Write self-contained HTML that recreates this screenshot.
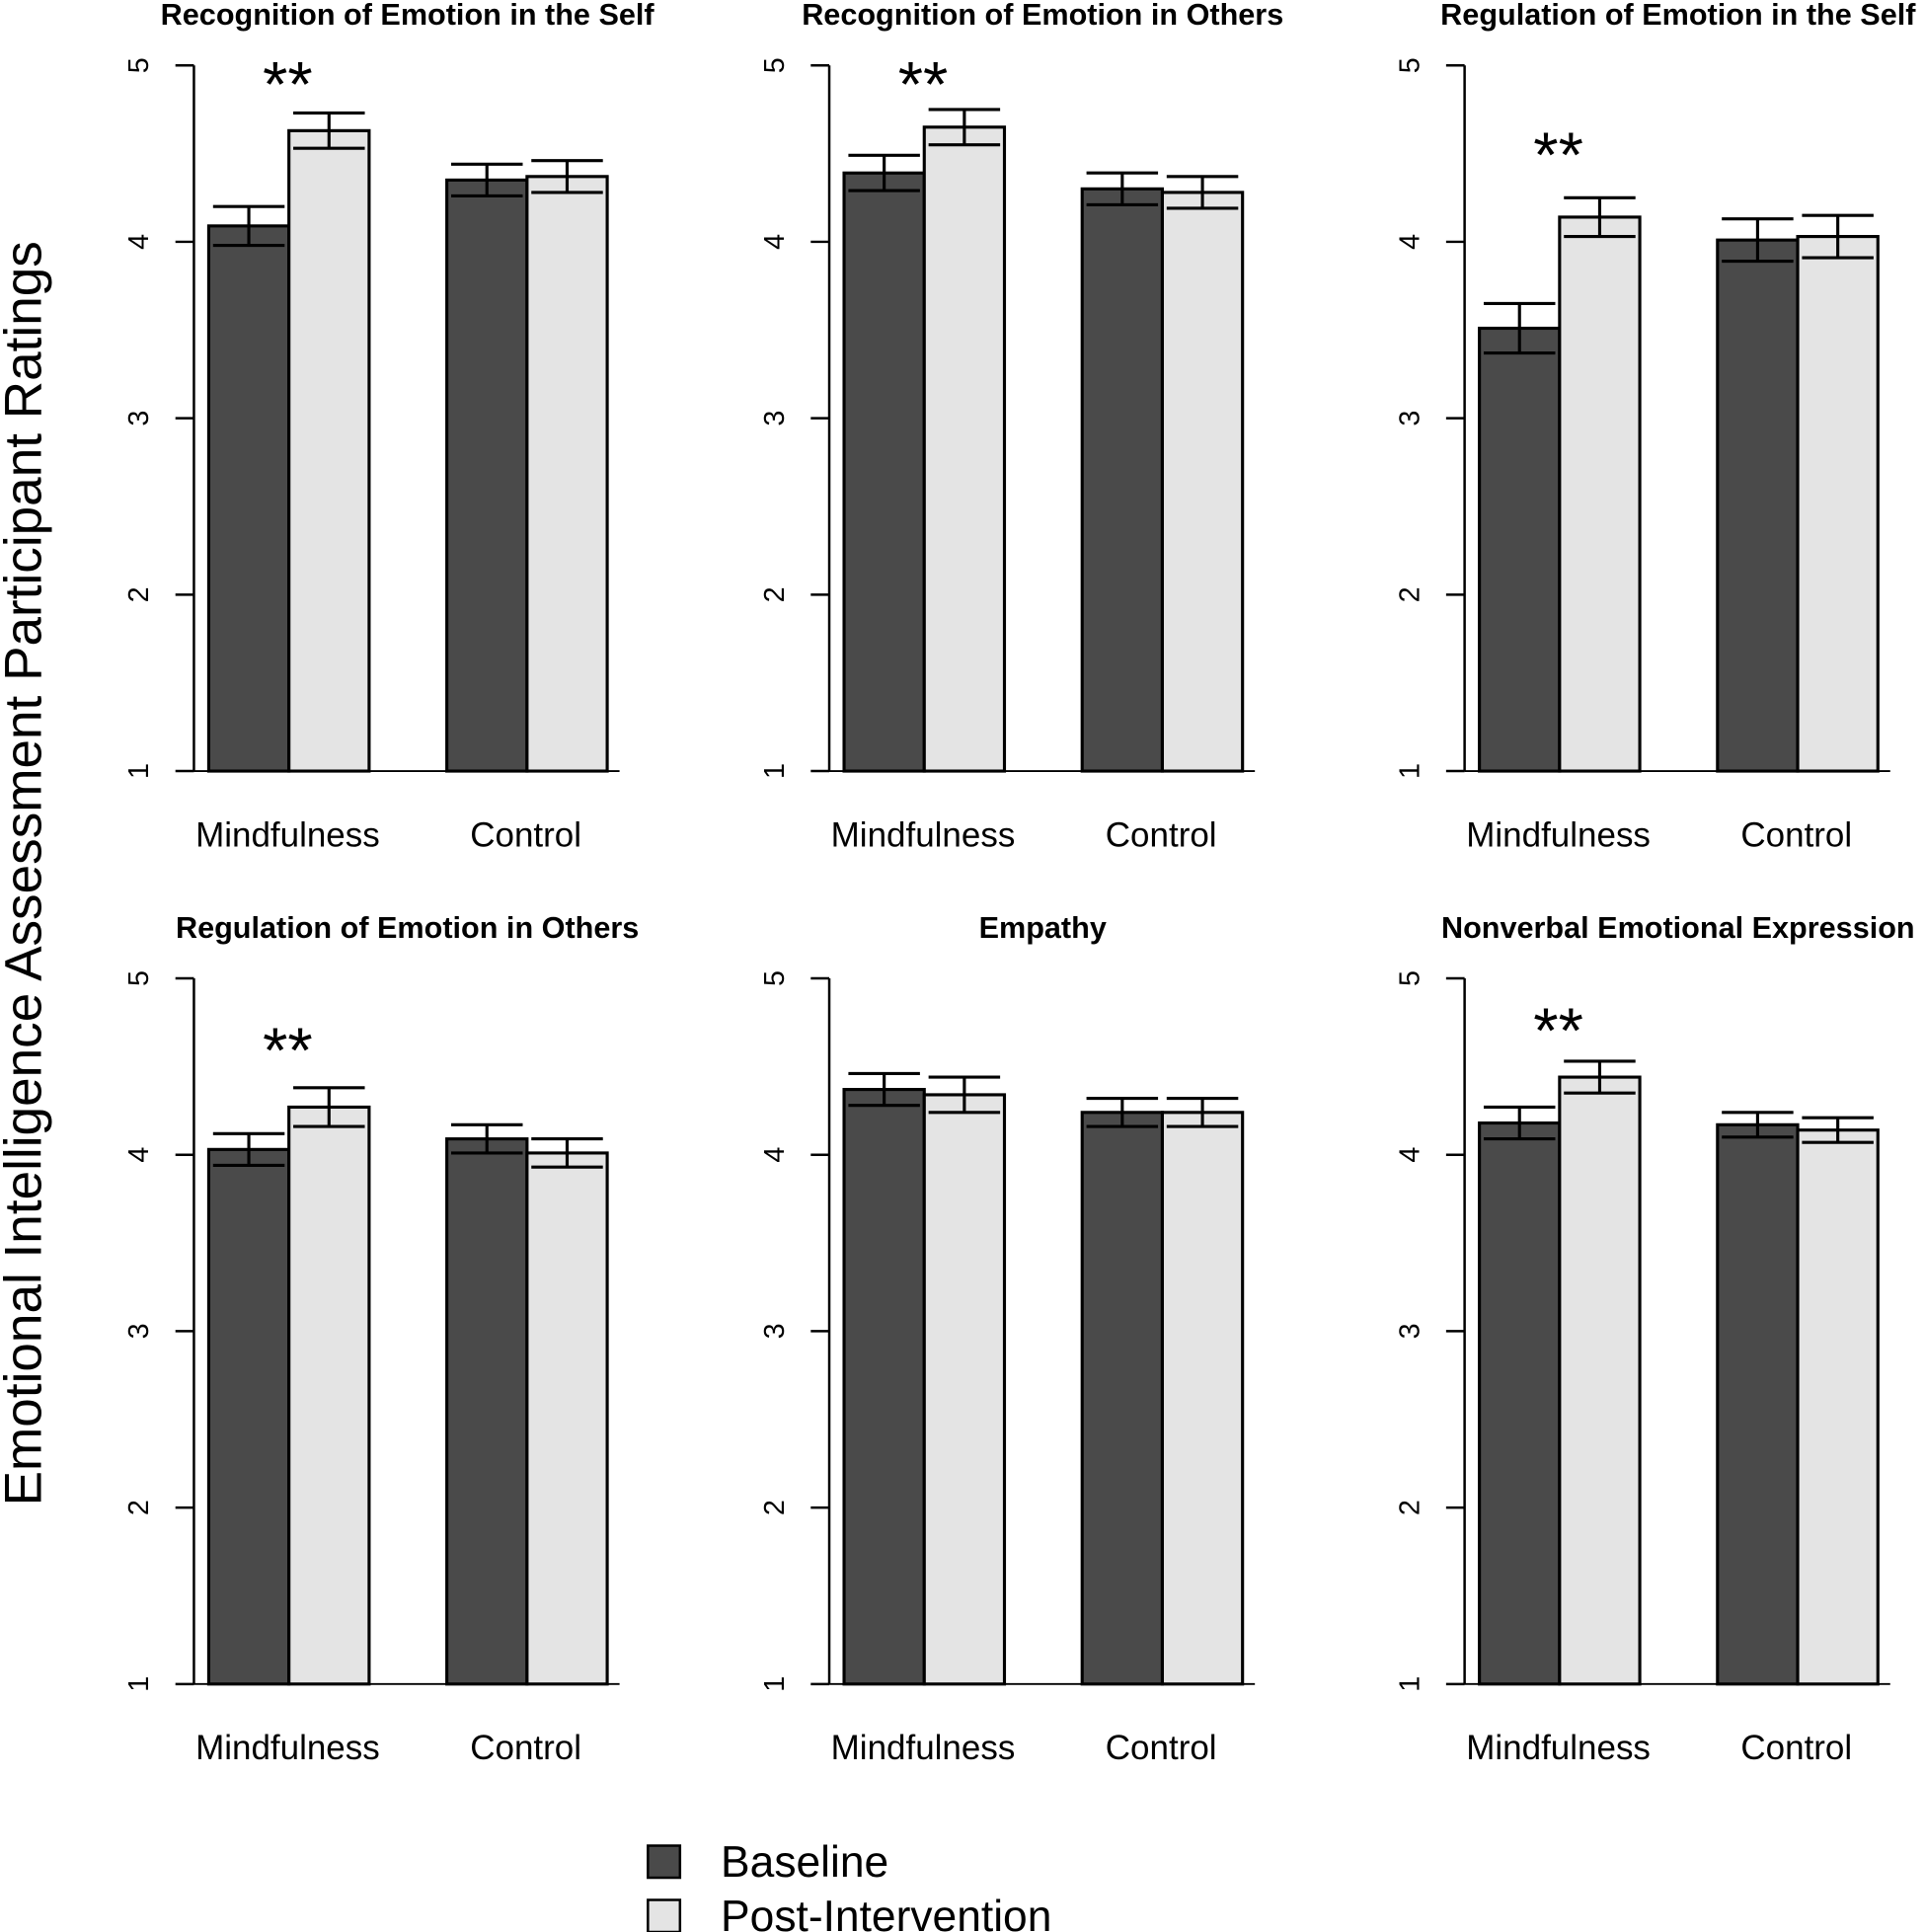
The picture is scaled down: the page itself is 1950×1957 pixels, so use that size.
<!DOCTYPE html>
<html><head><meta charset="utf-8"><style>
body{margin:0;background:#fff;}
svg{display:block;font-family:"Liberation Sans",Arial,sans-serif;}
</style></head><body>
<svg id="chart" width="1950" height="1957" viewBox="0 0 1560 1566" xmlns="http://www.w3.org/2000/svg">
<text transform="translate(33,708) rotate(-90)" text-anchor="middle" font-size="42.5">Emotional Intelligence Assessment Participant Ratings</text>
<g>
<rect x="525" y="1496" width="26" height="26" fill="#4a4a4a" stroke="#000" stroke-width="2"/>
<text x="584" y="1521" font-size="35.5">Baseline</text>
<rect x="525" y="1540" width="26" height="26" fill="#e4e4e4" stroke="#000" stroke-width="2"/>
<text x="584" y="1565" font-size="35.5">Post-Intervention</text>
</g>
</svg>
<script>
const titles=["Recognition of Emotion in the Self","Recognition of Emotion in Others","Regulation of Emotion in the Self","Regulation of Emotion in Others","Empathy","Nonverbal Emotional Expression"];
const groups=["Mindfulness","Control"];
const baseline=[[4.09,4.35],[4.39,4.30],[3.51,4.01],[4.03,4.09],[4.37,4.24],[4.18,4.17]];
const post=[[4.63,4.37],[4.65,4.28],[4.14,4.03],[4.27,4.01],[4.34,4.24],[4.44,4.14]];
const baseErr=[[0.11,0.09],[0.10,0.09],[0.14,0.12],[0.09,0.08],[0.09,0.08],[0.09,0.07]];
const postErr=[[0.10,0.09],[0.10,0.09],[0.11,0.12],[0.11,0.08],[0.10,0.08],[0.09,0.07]];
const stars=[4.92,4.92,4.52,4.62,null,4.73];
const yTicks=[1,2,3,4,5];
const NS="http://www.w3.org/2000/svg";
const svg=document.getElementById('chart');
function mk(tag,attrs,parent){const e=document.createElementNS(NS,tag);for(const k in attrs)e.setAttribute(k,attrs[k]);parent.appendChild(e);return e;}
for(let p=0;p<6;p++){
  const ox=157+(p%3)*515, oy=Math.floor(p/3)*740;
  const y=v=>oy+53+(5-v)*143;
  const g=mk('g',{},svg);
  
  
  const t=mk('text',{x:ox+173,y:oy+20,'text-anchor':'middle','font-size':'24.5','font-weight':'bold'},g);
  t.textContent=titles[p];
  
  
  const ax=mk('line',{x1:ox,x2:ox,y1:y(5),y2:y(1),stroke:'#000','stroke-width':2},g);
  
  
  const bl=mk('line',{x1:ox,x2:ox+345,y1:y(1),y2:y(1),stroke:'#000','stroke-width':1.5},g);
  
  
  yTicks.forEach(v=>{
    const tk=mk('line',{x1:ox-15,x2:ox,y1:y(v),y2:y(v),stroke:'#000','stroke-width':2},g);
    
    
    const tl=mk('text',{transform:`translate(${ox-37},${y(v)}) rotate(-90)`,'text-anchor':'middle','font-size':'23'},g);
    tl.textContent=v;
    
    
  });
  groups.forEach((gn,i)=>{
    const gx=ox+12+i*193;
    [[baseline,baseErr,'#4a4a4a','bar-baseline'],[post,postErr,'#e4e4e4','bar-post']].forEach((s,j)=>{
      const v=s[0][p][i], e=s[1][p][i], x=gx+j*65;
      const r=mk('rect',{x:x,y:y(v),width:65,height:y(1)-y(v),fill:s[2],stroke:'#000','stroke-width':2.5},g);
      
      
      const cx=x+32.5;
      const eb=mk('path',{d:`M${cx},${y(v+e)}V${y(v-e)}M${cx-29},${y(v+e)}H${cx+29}M${cx-29},${y(v-e)}H${cx+29}`,stroke:'#000','stroke-width':2.5,fill:'none'},g);
      
      
    });
    const cl=mk('text',{x:gx+64,y:oy+686,'text-anchor':'middle','font-size':'28'},g);
    cl.textContent=gn;
    
    
  });
  if(stars[p]!==null){
    const st=mk('text',{x:ox+76,y:y(stars[p])+22,'text-anchor':'middle','font-size':'52'},g);
    st.textContent='**';
    
    
  }
}
</script>
</body></html>
